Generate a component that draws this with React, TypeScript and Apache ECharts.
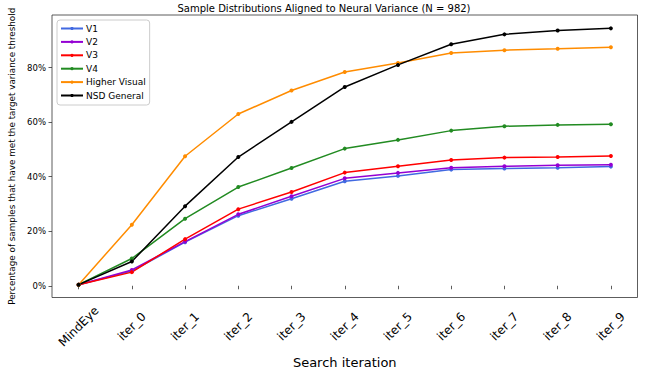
import React, { useEffect, useRef } from "react";
import * as echarts from "echarts";

const categories = ["MindEye", "iter_0", "iter_1", "iter_2", "iter_3", "iter_4", "iter_5", "iter_6", "iter_7", "iter_8", "iter_9"];
const v1 = [0.4, 5.4, 16.0, 25.7, 31.9, 38.3, 40.3, 42.6, 43.0, 43.3, 43.7];
const v2 = [0.4, 5.8, 16.2, 26.2, 32.8, 39.4, 41.4, 43.3, 43.8, 44.2, 44.4];
const v3 = [0.4, 5.0, 17.1, 28.1, 34.4, 41.5, 43.8, 46.1, 47.0, 47.2, 47.6];
const v4 = [0.4, 10.0, 24.6, 36.2, 43.2, 50.3, 53.5, 56.9, 58.5, 59.0, 59.2];
const higherVisual = [0.4, 22.4, 47.5, 63.0, 71.6, 78.4, 81.7, 85.4, 86.4, 86.9, 87.5];
const nsdGeneral = [0.4, 8.9, 29.2, 47.2, 60.1, 72.9, 81.0, 88.6, 92.2, 93.6, 94.4];
const yTicks = [0, 20, 40, 60, 80];

const seriesDefs = [
  { name: "V1", data: v1, color: "#4169e1" },
  { name: "V2", data: v2, color: "#9400d3" },
  { name: "V3", data: v3, color: "#ff0000" },
  { name: "V4", data: v4, color: "#228b22" },
  { name: "Higher Visual", data: higherVisual, color: "#ff8c00" },
  { name: "NSD General", data: nsdGeneral, color: "#000000" },
];

const FONT = "DejaVu Sans";

export default function App() {
  const ref = useRef<HTMLDivElement>(null);
  useEffect(() => {
    if (!ref.current) return;
    const chart = echarts.init(ref.current, undefined, { renderer: "svg" });
    chart.setOption({
      animation: false,
      textStyle: { fontFamily: FONT },
      graphic: [
        {
          type: "text",
          left: "center",
          top: 3,
          style: {
            text: "Sample Distributions Aligned to Neural Variance (N = 982)",
            font: `10px "${FONT}"`,
            fill: "#000",
          },
        },
      ],
      legend: {
        orient: "vertical",
        left: 57,
        top: 20,
        padding: [4, 4, 5, 3],
        itemWidth: 22,
        itemHeight: 4,
        itemGap: 4.4,
        backgroundColor: "rgba(255,255,255,0.8)",
        borderColor: "#cccccc",
        borderWidth: 1,
        borderRadius: 3,
        textStyle: { fontFamily: FONT, fontSize: 9, color: "#000", padding: [0, 0, 0, -2] },
        data: seriesDefs.map((s) => s.name),
      },
      grid: {
        left: 52,
        right: 10.5,
        top: 15,
        bottom: 76.5,
        outerBoundsMode: "none",
        containLabel: false,
        show: true,
        borderColor: "#333",
        borderWidth: 0.8,
        backgroundColor: "transparent",
      },
      xAxis: {
        type: "category",
        data: categories,
        boundaryGap: true,
        name: "Search iteration",
        nameLocation: "middle",
        nameGap: 58,
        nameTextStyle: { fontFamily: FONT, fontSize: 13, color: "#000" },
        axisLine: { show: false },
        axisTick: { show: true, alignWithLabel: true, length: 3.5, lineStyle: { color: "#333", width: 0.8 } },
        axisLabel: {
          rotate: 45,
          align: "center",
          verticalAlign: "middle",
          margin: 29,
          fontFamily: FONT,
          fontSize: 12,
          color: "#000",
          interval: 0,
        },
        splitLine: { show: false },
      },
      yAxis: {
        type: "value",
        min: -4.3,
        max: 99.3,
        name: "Percentage of samples that have met the target variance threshold",
        nameLocation: "middle",
        nameGap: 27,
        nameRotate: 90,
        nameTextStyle: { fontFamily: FONT, fontSize: 8.8, color: "#000" },
        axisLine: { show: false },
        axisTick: { show: true, length: 3.5, customValues: yTicks, lineStyle: { color: "#333", width: 0.8 } },
        axisLabel: {
          customValues: yTicks,
          formatter: (v: number) => `${v}%`,
          fontFamily: FONT,
          fontSize: 8.5,
          color: "#000",
          margin: 6,
        },
        splitLine: { show: false },
      },
      series: seriesDefs.map((s) => ({
        name: s.name,
        type: "line",
        data: s.data,
        color: s.color,
        symbol: "circle",
        symbolSize: 4,
        showSymbol: true,
        lineStyle: { width: 1.5, color: s.color },
        itemStyle: { color: s.color },
      })),
    });
    return () => chart.dispose();
  }, []);
  return <div ref={ref} style={{ position: "absolute", left: 0, top: 0, width: 648, height: 374 }} />;
}
